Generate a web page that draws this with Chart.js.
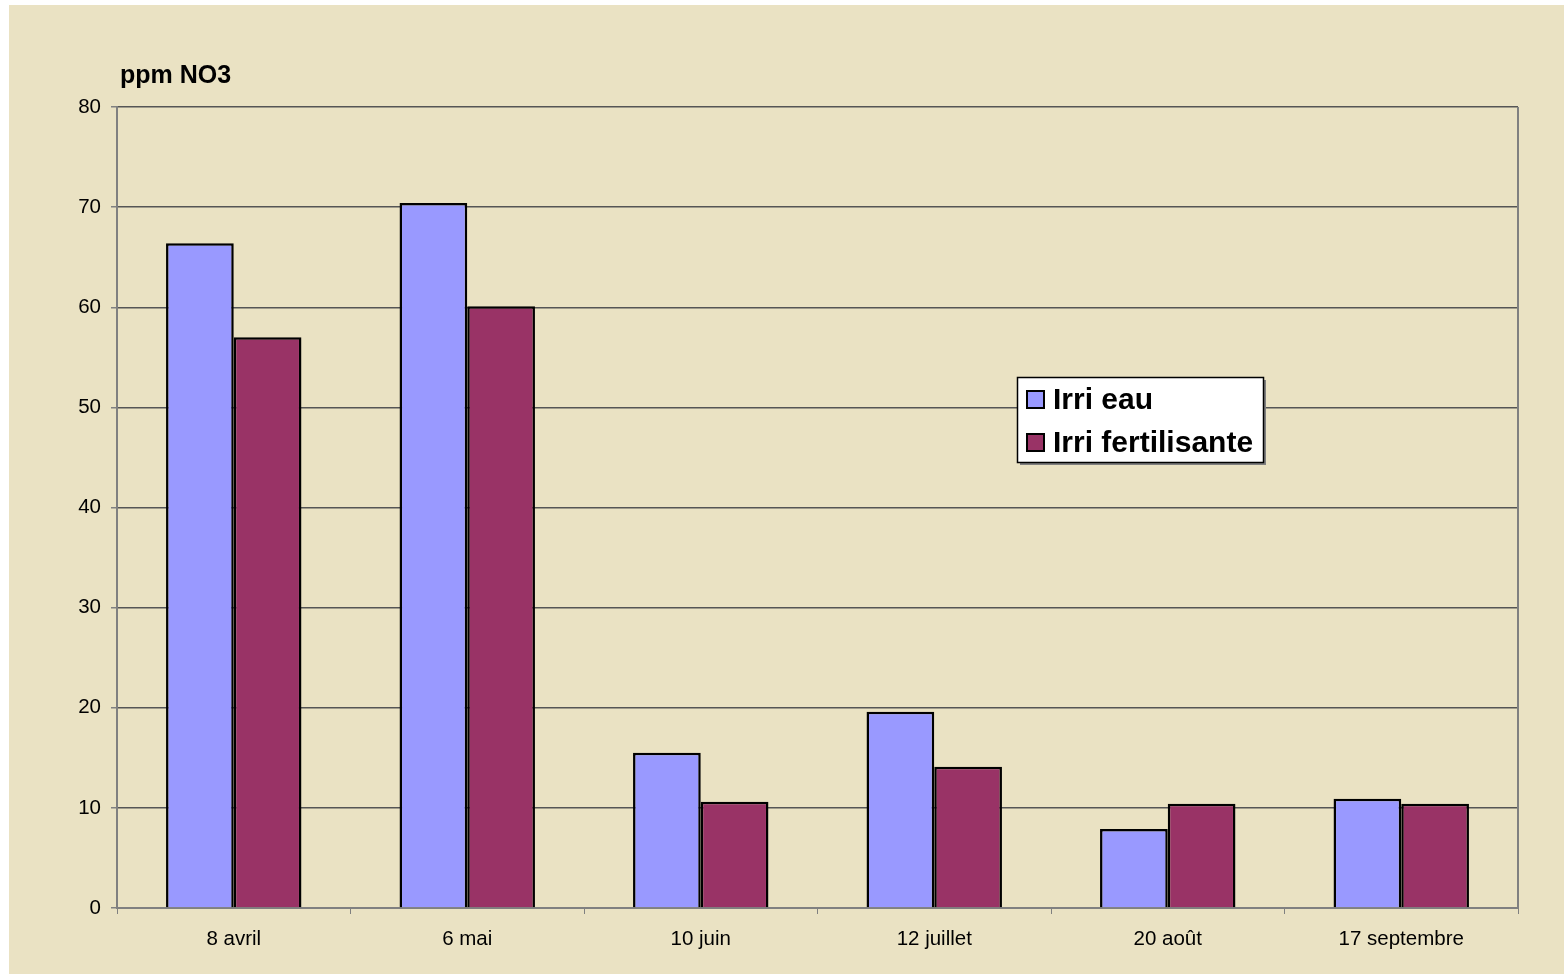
<!DOCTYPE html>
<html>
<head>
<meta charset="utf-8">
<script src="https://cdn.jsdelivr.net/npm/chart.js@4"></script>
<style>
  body { margin: 0; background: #ffffff; }
  #wrap {
    position: absolute;
    left: 9px;
    top: 5px;
    width: 1555px;
    height: 969px;
    background: #eae2c3;
  }
</style>
</head>
<body>
<div id="wrap"><canvas id="no3-chart" width="1555" height="969"></canvas></div>
<script>
// chart data
const dates = ["8 avril", "6 mai", "10 juin", "12 juillet", "20 août", "17 septembre"];
const irriEau = [66.4, 70.4, 15.5, 19.6, 7.9, 10.9];
const irriFert = [57.0, 60.1, 10.6, 14.1, 10.4, 10.4];
const yTicks = [0, 10, 20, 30, 40, 50, 60, 70, 80];

const font = "Arial, 'Liberation Sans', sans-serif";

// draws "ppm NO3" and the boxed legend
const extras = {
  id: "extras",
  afterDraw(chart) {
    const ctx = chart.ctx;
    const area = chart.chartArea;
    ctx.save();
    ctx.fillStyle = "#000";
    ctx.font = "bold 25px " + font;
    ctx.textBaseline = "middle";
    ctx.fillText("ppm NO3", area.left + 3, 71);

    // legend box
    const lx = 1017 - 9, ly = 377 - 5, lw = 246, lh = 85;
    ctx.fillStyle = "#808080";
    ctx.fillRect(lx + 3, ly + 3, lw, lh);
    ctx.fillStyle = "#fff";
    ctx.fillRect(lx, ly, lw, lh);
    ctx.strokeStyle = "#000";
    ctx.lineWidth = 1.5;
    ctx.strokeRect(lx + 0.5, ly + 0.5, lw, lh);
    ctx.font = "bold 30px " + font;
    chart.data.datasets.forEach((ds, i) => {
      const y = ly + 23 + i * 43;
      ctx.fillStyle = ds.backgroundColor;
      ctx.fillRect(lx + 10, y - 9, 17, 17);
      ctx.lineWidth = 2;
      ctx.strokeRect(lx + 10, y - 9, 17, 17);
      ctx.fillStyle = "#000";
      ctx.fillText(ds.label, lx + 36, y + 1);
    });
    ctx.restore();
  },
};

const canvas = document.getElementById("no3-chart");
new Chart(canvas.getContext("2d"), {
  type: "bar",
  data: {
    labels: dates,
    datasets: [
      {
        label: "Irri eau",
        data: irriEau,
        backgroundColor: "#9999ff",
        borderColor: "#000",
        borderWidth: 2.5,
        borderSkipped: "bottom",
      },
      {
        label: "Irri fertilisante",
        data: irriFert,
        backgroundColor: "#993366",
        borderColor: "#000",
        borderWidth: 2.5,
        borderSkipped: "bottom",
      },
    ],
  },
  options: {
    responsive: false,
    animation: false,
    layout: { padding: { left: 0, top: 102, right: 46, bottom: 0 } },
    datasets: {
      bar: { barPercentage: 1, categoryPercentage: 0.58 },
    },
    scales: {
      x: {
        afterFit: (axis) => { axis.height = 66; },
        grid: {
          offset: true,
          drawOnChartArea: false,
          color: "#808080",
          tickLength: 6,
          lineWidth: 1,
        },
        border: { color: "#808080", width: 2 },
        ticks: {
          color: "#000",
          font: { family: font, size: 20.5 },
          padding: 13,
        },
      },
      y: {
        min: 0,
        max: 80,
        afterFit: (axis) => { axis.width = 108; },
        afterBuildTicks: (axis) => { axis.ticks = yTicks.map((v) => ({ value: v })); },
        grid: {
          color: "#555",
          lineWidth: 1.5,
          tickLength: 6,
          tickColor: "#808080",
        },
        border: { color: "#808080", width: 2 },
        ticks: {
          color: "#000",
          font: { family: font, size: 20.5 },
          padding: 10,
        },
      },
    },
    plugins: {
      legend: { display: false },
      tooltip: { enabled: false },
    },
  },
  plugins: [
    extras,
    {
      id: "rightEdge",
      afterDraw(chart) {
        const { ctx, chartArea } = chart;
        ctx.save();
        ctx.strokeStyle = "#808080";
        ctx.lineWidth = 2;
        ctx.beginPath();
        ctx.moveTo(chartArea.right, chartArea.top);
        ctx.lineTo(chartArea.right, chartArea.bottom);
        ctx.stroke();
        ctx.restore();
      },
    },
  ],
});
</script>
</body>
</html>
